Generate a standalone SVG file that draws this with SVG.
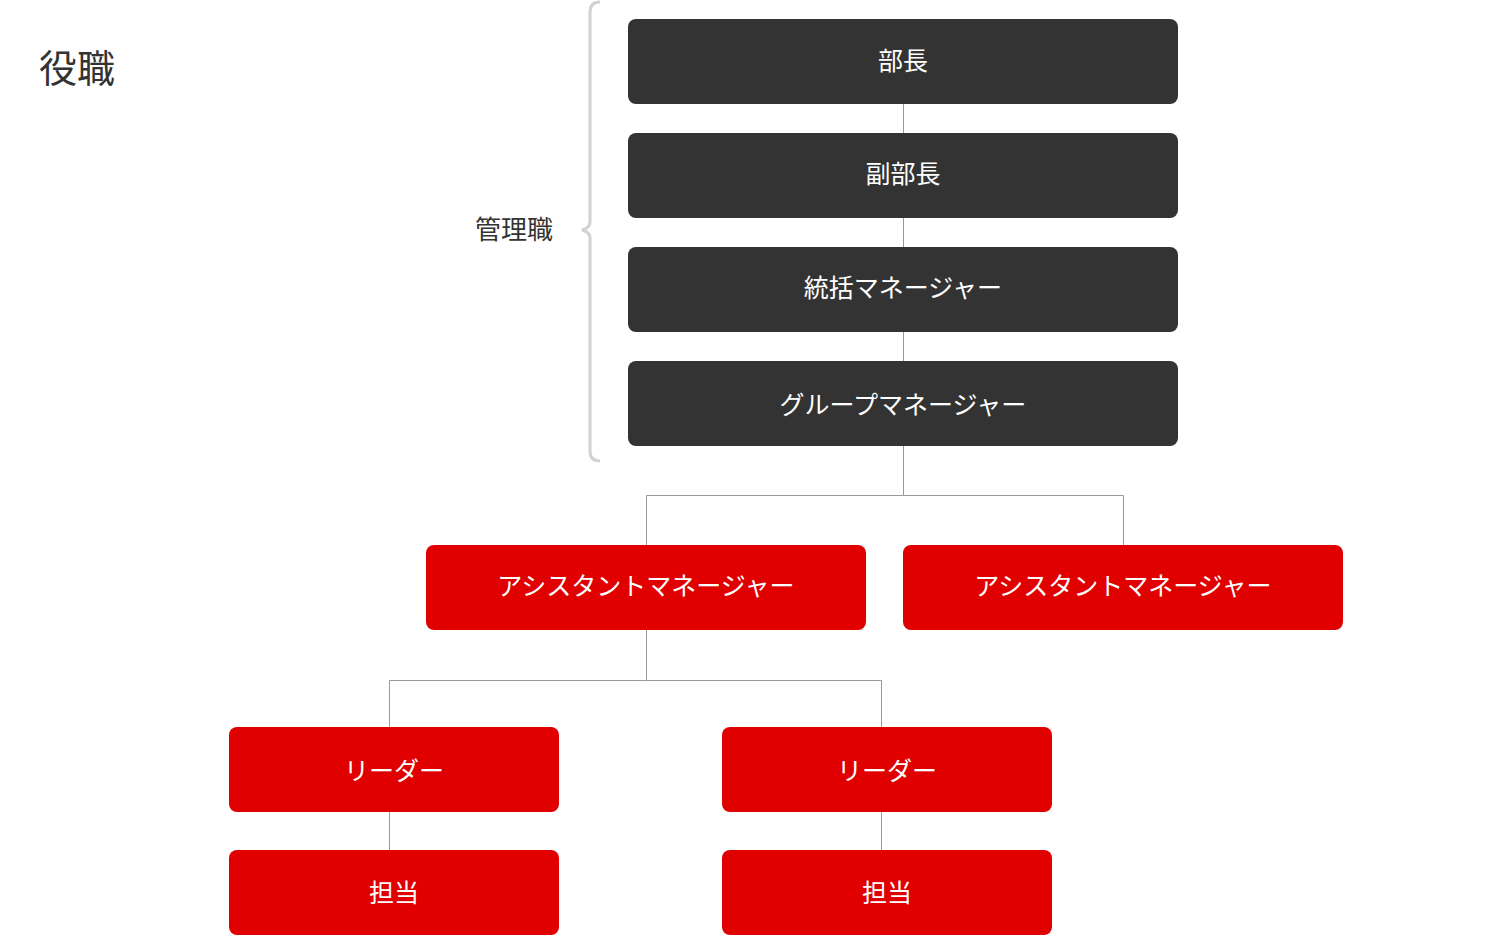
<svg xmlns="http://www.w3.org/2000/svg" width="1496" height="936" viewBox="0 0 1496 936">
<style>
text{font-family:"Noto Sans CJK JP","Noto Sans",sans-serif}
.dk{fill:#333333}
.rd{fill:#e00000}
.lb{fill:#ffffff;font-size:25px;text-anchor:middle;dominant-baseline:central}
.cn{stroke:#999999;stroke-width:1;fill:none}
</style>
<rect width="1496" height="936" fill="#ffffff"/>
<text x="39" y="82" font-size="38" fill="#333333">役職</text>
<text x="553" y="227" font-size="26" fill="#333333" text-anchor="end" dominant-baseline="central">管理職</text>
<path d="M600,2 Q590,2 590,12 L590,222 Q590,228 582,230 Q590,232 590,238 L590,451 Q590,461 600,461" fill="none" stroke="#d2d2d2" stroke-width="3"/>
<g id="connectors">
<path class="cn" d="M903.5,104V133M903.5,218V247M903.5,332V361M903.5,446V495.5H646.5V545M903.5,495.5H1123.5V545M646.5,630V680.5H389.5V727M646.5,680.5H881.5V727M389.5,812V850M881.5,812V850"/>
</g>
<g id="n1"><rect class="dk" x="628" y="19" width="550" height="85" rx="8"/><text class="lb" x="903" y="59">部長</text></g>
<g id="n2"><rect class="dk" x="628" y="133" width="550" height="85" rx="8"/><text class="lb" x="903" y="172">副部長</text></g>
<g id="n3"><rect class="dk" x="628" y="247" width="550" height="85" rx="8"/><text class="lb" x="903" y="286">統括マネージャー</text></g>
<g id="n4"><rect class="dk" x="628" y="361" width="550" height="85" rx="8"/><text class="lb" x="903" y="403">グループマネージャー</text></g>
<g id="n5"><rect class="rd" x="426" y="545" width="440" height="85" rx="8"/><text class="lb" x="646" y="584">アシスタントマネージャー</text></g>
<g id="n6"><rect class="rd" x="903" y="545" width="440" height="85" rx="8"/><text class="lb" x="1123" y="584">アシスタントマネージャー</text></g>
<g id="n7"><rect class="rd" x="229" y="727" width="330" height="85" rx="8"/><text class="lb" x="394" y="769">リーダー</text></g>
<g id="n8"><rect class="rd" x="722" y="727" width="330" height="85" rx="8"/><text class="lb" x="887" y="769">リーダー</text></g>
<g id="n9"><rect class="rd" x="229" y="850" width="330" height="85" rx="8"/><text class="lb" x="394" y="891">担当</text></g>
<g id="n10"><rect class="rd" x="722" y="850" width="330" height="85" rx="8"/><text class="lb" x="887" y="891">担当</text></g>
</svg>
